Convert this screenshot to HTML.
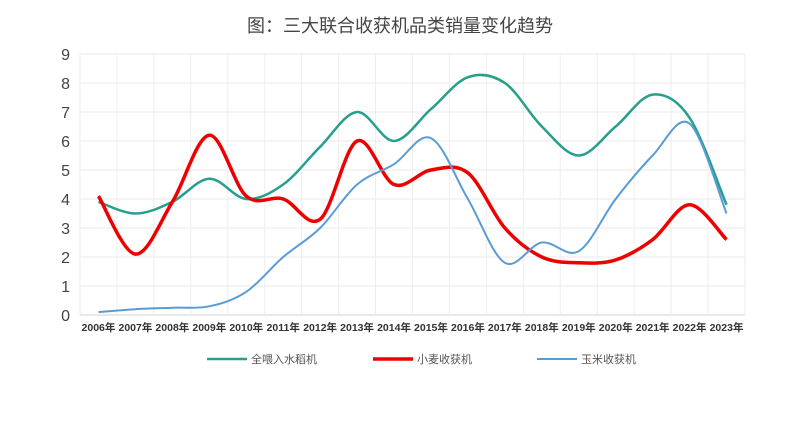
<!DOCTYPE html>
<html><head><meta charset="utf-8"><style>
body{margin:0;background:#fff;font-family:"Liberation Sans","Noto Sans CJK SC",sans-serif}
</style></head><body>
<svg id="c" width="800" height="418" xmlns="http://www.w3.org/2000/svg">
<text x="400" y="32" text-anchor="middle" font-size="18" fill="#444" font-family="Liberation Sans,Noto Sans CJK SC,sans-serif">图：三大联合收获机品类销量变化趋势</text>
<g id="grid"></g><g id="axes"></g><g id="series"></g><g id="legend"></g>
</svg>
<script>
const categories=["2006年","2007年","2008年","2009年","2010年","2011年","2012年","2013年","2014年","2015年","2016年","2017年","2018年","2019年","2020年","2021年","2022年","2023年"];
const riceValues=[3.9,3.5,3.9,4.7,4.0,4.5,5.8,7.0,6.0,7.1,8.2,8.0,6.5,5.5,6.5,7.6,6.8,3.8];
const wheatValues=[4.1,2.1,3.9,6.2,4.1,4.0,3.3,6.0,4.5,5.0,4.9,3.0,2.0,1.8,1.9,2.6,3.8,2.6];
const cornValues=[0.1,0.2,0.25,0.3,0.8,2.0,3.0,4.5,5.2,6.1,4.0,1.8,2.5,2.2,4.0,5.5,6.6,3.5];
const yTicks=[0,1,2,3,4,5,6,7,8,9];
const seriesNames=["全喂入水稻机","小麦收获机","玉米收获机"];
const NS="http://www.w3.org/2000/svg";
const L=80,R=745,T=54,B=315,bw=(R-L)/categories.length;
const x=i=>L+bw*(i+0.5), y=v=>B-(v/9)*(B-T);
function mk(tag,attrs,parent){const e=document.createElementNS(NS,tag);for(const k in attrs)e.setAttribute(k,attrs[k]);document.getElementById(parent).appendChild(e);return e;}
yTicks.forEach(t=>{
 const g=mk('line',{x1:L,x2:R,y1:y(t),y2:y(t),stroke:t===0?'#d0d0d0':'#e8e8e8'},'grid');
 
 
 const tx=mk('text',{x:L-10,y:y(t)+6,'text-anchor':'end','font-size':16,fill:'#444'},'axes');
 tx.textContent=t;
 
 
});
for(let i=0;i<=categories.length;i++){
 const v=mk('line',{x1:L+bw*i,x2:L+bw*i,y1:T,y2:B,stroke:'#eeeeee'},'grid');
 
 
}
categories.forEach((c,i)=>{
 const tx=mk('text',{x:x(i),y:331,'text-anchor':'middle','font-size':10.5,'font-weight':'bold',fill:'#333'},'axes');
 tx.textContent=c;
 
 
});
function smooth(vals){
 const p=vals.map((v,i)=>[x(i),y(v)]);let d=`M${p[0][0]},${p[0][1]}`;
 for(let i=0;i<p.length-1;i++){const p0=p[i-1]||p[i],p1=p[i],p2=p[i+1],p3=p[i+2]||p2;
  const c1=[p1[0]+(p2[0]-p0[0])/6,p1[1]+(p2[1]-p0[1])/6],c2=[p2[0]-(p3[0]-p1[0])/6,p2[1]-(p3[1]-p1[1])/6];
  d+=`C${c1[0]},${c1[1]} ${c2[0]},${c2[1]} ${p2[0]},${p2[1]}`;}
 return d;}
const defs=[[riceValues,'#26a08c',2.5,'rice-line'],[wheatValues,'#ee0000',3.5,'wheat-line'],[cornValues,'#5b9bd5',2,'corn-line']];
defs.forEach(([vals,col,w,name])=>{
 const p=mk('path',{d:smooth(vals),fill:'none',stroke:col,'stroke-width':w},'series');
 
 
});
const lx=[207,373,537];
seriesNames.forEach((n,i)=>{
 const l=mk('line',{x1:lx[i],x2:lx[i]+40,y1:359,y2:359,stroke:defs[i][1],'stroke-width':defs[i][2]},'legend');
 
 
 const t=mk('text',{x:lx[i]+44,y:363,'font-size':11,fill:'#555'},'legend');
 t.textContent=n;
 
 
});
</script>
</body></html>
